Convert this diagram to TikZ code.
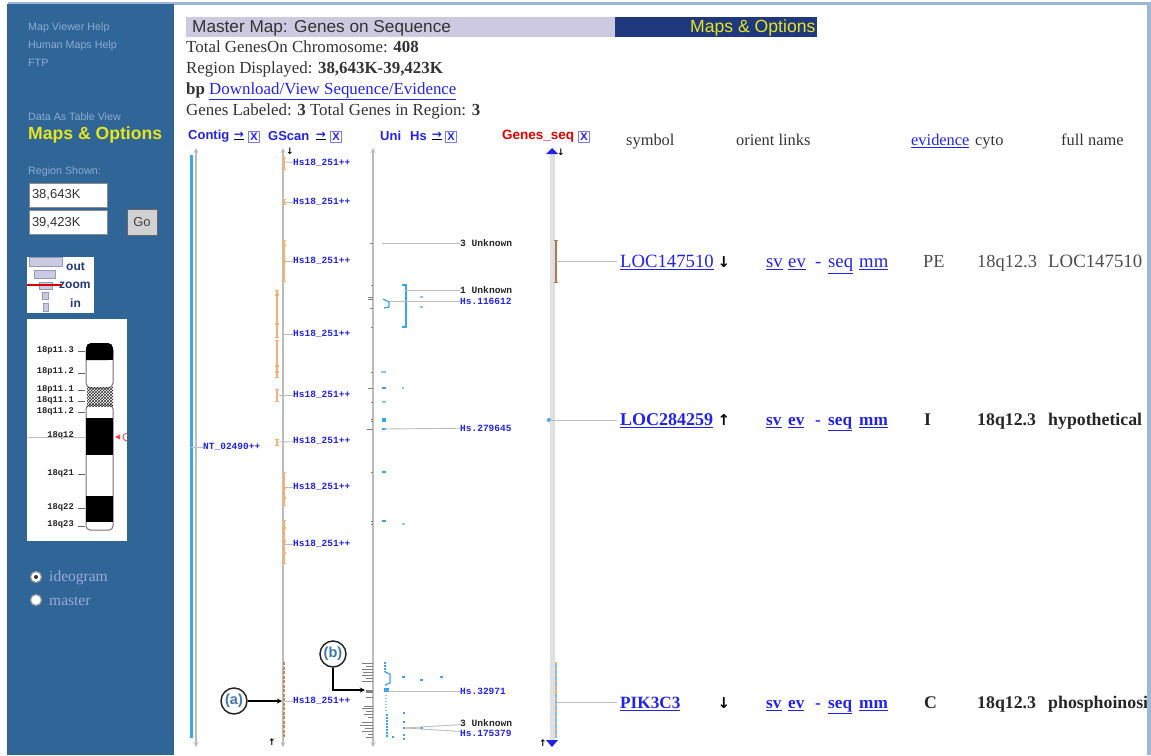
\documentclass[tikz,border=0pt]{standalone}
\usepackage{fontspec}
\setmainfont{Liberation Serif}
\setsansfont{Liberation Sans}
\setmonofont{Liberation Mono}
\newfontfamily\arrowfont{DejaVu Sans}
\usetikzlibrary{patterns,arrows.meta}
\definecolor{panelblue}{HTML}{2F6597}
\definecolor{panelframe}{HTML}{9DB7D6}
\definecolor{paneltext}{HTML}{8DACD4}
\definecolor{radiotext}{HTML}{A0A8DC}
\definecolor{barlilac}{HTML}{CCC9E0}
\definecolor{barnavy}{HTML}{20397E}
\definecolor{optyellow}{HTML}{E6E61E}
\definecolor{linkblue}{HTML}{2222EE}
\definecolor{geneorange}{HTML}{F8B070}
\definecolor{genebrown}{HTML}{B07A50}
\definecolor{unicyan}{HTML}{39A6F2}
\definecolor{callblue}{HTML}{3E78AA}
\definecolor{softgrey}{HTML}{BDBDBD}
\tikzstyle{side} = [anchor=west, inner sep=0pt, text height=0.72em, text depth=0.2em, yshift=-2pt, font=\sffamily\fontsize{10.7}{10.7}\selectfont, text=paneltext]
\tikzstyle{sideopt} = [anchor=west, inner sep=0pt, font=\sffamily\bfseries\fontsize{17.6}{17.6}\selectfont, text=optyellow]
\tikzstyle{inputbox} = [rectangle, draw=black!45, fill=white, minimum width=78pt, minimum height=24pt, inner sep=3pt, align=left, text width=72pt, font=\sffamily\fontsize{13}{13}\selectfont, text=black!80]
\tikzstyle{band} = [anchor=east, inner sep=0pt, font=\ttfamily\bfseries\fontsize{8.8}{8.8}\selectfont, text=black!85]
\tikzstyle{page} = [anchor=west, inner sep=0pt, text height=0.72em, text depth=0.2em, yshift=-3pt, font=\fontsize{16.9}{16.9}\selectfont, text=black!80]
\tikzstyle{colhead} = [page, font=\fontsize{16.4}{16.4}\selectfont]
\tikzstyle{trackhead} = [anchor=west, inner sep=0pt, font=\sffamily\bfseries\fontsize{13}{13}\selectfont, text=linkblue]
\tikzstyle{xicon} = [rectangle, draw=linkblue!60, inner sep=0pt, minimum size=11pt, font=\sffamily\bfseries\fontsize{11}{11}\selectfont, text=linkblue, append after command={[black, line width=1pt] (\tikzlastnode.south west) -- (\tikzlastnode.south east) -- (\tikzlastnode.north east)}]
\tikzstyle{goicon} = [inner sep=0pt, minimum width=12pt, minimum height=10pt, font=\arrowfont\bfseries\fontsize{12}{12}\selectfont, text=linkblue]
\tikzstyle{hsmap} = [anchor=west, inner sep=0pt, font=\ttfamily\bfseries\fontsize{9.5}{9.5}\selectfont, text=linkblue]
\tikzstyle{unknown} = [anchor=west, inner sep=0pt, font=\ttfamily\bfseries\fontsize{9.6}{9.6}\selectfont, text=black!85]
\tikzstyle{genelink} = [anchor=west, inner sep=0pt, text height=0.72em, text depth=0.2em, yshift=-4pt, font=\fontsize{18.7}{18.7}\selectfont, text=linkblue]
\tikzstyle{linkbold} = [genelink, font=\bfseries\fontsize{17.2}{17.2}\selectfont]
\tikzstyle{genetext} = [anchor=west, inner sep=0pt, text height=0.72em, text depth=0.2em, yshift=-4pt, font=\fontsize{18.4}{18.4}\selectfont, text=black!70]
\tikzstyle{genebold} = [anchor=west, inner sep=0pt, text height=0.72em, text depth=0.2em, yshift=-4pt, font=\bfseries\fontsize{17.8}{17.8}\selectfont, text=black!85]
\tikzstyle{orient} = [inner sep=0pt, font=\arrowfont\bfseries\fontsize{15}{15}\selectfont, text=black]
\tikzstyle{endmark} = [inner sep=0pt, font=\arrowfont\bfseries\fontsize{9}{9}\selectfont, text=black]
\tikzstyle{axis} = [draw=softgrey, line width=1.2pt, {Stealth[length=5pt,width=5pt]}-{Stealth[length=5pt,width=5pt]}]
\tikzstyle{leader} = [draw=softgrey, line width=0.9pt]
\tikzstyle{gstem} = [draw=geneorange, line width=1.6pt, {Bar[width=4pt,line width=1.4pt]}-{Bar[width=4pt,line width=1.4pt]}]
\tikzstyle{gtick} = [draw=geneorange, line width=1.2pt]
\tikzstyle{utick} = [draw=black!50, line width=0.8pt]
\tikzstyle{ublue} = [draw=unicyan, line width=1pt]
\tikzstyle{uspot} = [draw=unicyan!60, line width=1.6pt]
\tikzstyle{callout} = [circle, draw=black!85, line width=1.5pt, fill=white, minimum size=26pt, inner sep=0pt, font=\sffamily\bfseries\fontsize{14.5}{14.5}\selectfont, text=callblue]
\tikzstyle{arrow} = [line width=1.3pt,->,>=stealth]
\newcommand{\lnk}[1]{\underline{#1}}
\newcommand{\golnk}[1]{\textcolor{black}{\underline{\textcolor{linkblue}{#1}}}}

\begin{document}
\begin{tikzpicture}[x=1pt,y=-1pt]
\useasboundingbox (0,0) rectangle (1151,755);

\fill [panelframe] (8,2) rectangle (1151,5);
\fill [panelblue] (7,4) rectangle (174,755);

\node (mapHelp) [side] at (28,26) {Map Viewer Help};
\node (humanHelp) [side] at (28,44) {Human Maps Help};
\node (ftp) [side] at (28,62) {FTP};
\node (tableView) [side] at (28,116) {Data As Table View};
\node (sideOptions) [sideopt] at (28,135) {Maps \& Options};
\node (regionShown) [side] at (28,170) {Region Shown:};
\node (startBox) [inputbox] at (68,195) {38,643K};
\node (stopBox) [inputbox] at (68,222.5) {39,423K};
\node (goButton) [rectangle, draw=black!60, fill=black!18, minimum width=30pt, minimum height=26pt, inner sep=0pt, font=\sffamily\fontsize{13}{13}\selectfont, text=black!75] at (142,222) {Go};

\fill [white] (27,257) rectangle (94,313);
\draw [draw=barnavy!50, fill=barlilac] (29,257) rectangle (62,266);
\draw [draw=barnavy!50, fill=barlilac] (34,270) rectangle (55,278);
\draw [draw=barnavy!50, fill=barlilac] (39,282) rectangle (52,289);
\draw [draw=barnavy!50, fill=barlilac] (42,292) rectangle (48,299);
\draw [draw=barnavy!50, fill=barlilac] (43,303) rectangle (48,311);
\node (zoomOut) [anchor=west, inner sep=0pt, font=\sffamily\bfseries\fontsize{12}{12}\selectfont, text=barnavy] at (66,267) {out};
\node (zoomMid) [anchor=west, inner sep=0pt, font=\sffamily\bfseries\fontsize{12}{12}\selectfont, text=barnavy] at (59,285) {zoom};
\node (zoomIn) [anchor=west, inner sep=0pt, font=\sffamily\bfseries\fontsize{12}{12}\selectfont, text=barnavy] at (70,303) {in};
\draw [red!85!black, line width=1.6pt] (27,285) -- (62,285);

\fill [white] (27,319) rectangle (127,541);
\draw [draw=black!55, fill=white, line width=1pt, rounded corners=5pt] (86,350) -- (86,388) -- (113,388) -- (113,350);
\draw [draw=black!55, fill=white, line width=1pt, rounded corners=4pt] (86,405) -- (86,530) -- (113,530) -- (113,405) -- cycle;
\fill [black, rounded corners=5pt] (86,360) -- (86,343) -- (113,343) -- (113,360) [sharp corners] -- cycle;
\fill [black] (86,355) rectangle (113,360);
\path [pattern=crosshatch, pattern color=black!80] (87,387) rectangle (113,397);
\path [pattern=crosshatch, pattern color=black!80] (87,398) rectangle (113,406);
\fill [black] (86,418) rectangle (113,455);
\fill [black] (86,496) rectangle (113,522);
\node (p113) [band] at (74,350) {18p11.3};
\node (p112) [band] at (74,371) {18p11.2};
\node (p111) [band] at (74,389) {18p11.1};
\node (q111) [band] at (74,400) {18q11.1};
\node (q112) [band] at (74,411) {18q11.2};
\node (q12) [band] at (74,435) {18q12};
\node (q21) [band] at (74,473) {18q21};
\node (q22) [band] at (74,507) {18q22};
\node (q23) [band] at (74,524) {18q23};
\draw [black!60] (78,351) -- (85,351) (78,373) -- (85,373) (78,390) -- (85,390) (78,401) -- (85,401) (78,412) -- (85,412) (78,474) -- (85,474) (78,508) -- (85,508) (78,526) -- (85,526);
\draw [softgrey] (28,437) -- (85,437);
\fill [red!75] (115,437) -- (120,434.5) -- (120,439.5) -- cycle;
\draw [red!70, line width=1pt] (127,433) arc (90:270:4pt);

\draw [draw=black!40, fill=white, line width=1.2pt] (36,577) circle (5.5);
\fill [black!80] (36,577) circle (2);
\draw [draw=black!40, fill=white, line width=1.2pt] (36,600) circle (5.5);
\node (ideogram) [anchor=west, inner sep=0pt, font=\fontsize{15.5}{15.5}\selectfont, text=radiotext] at (49,578) {ideogram};
\node (master) [anchor=west, inner sep=0pt, font=\fontsize{15.5}{15.5}\selectfont, text=radiotext] at (49,601) {master};

\fill [barlilac] (186,17) rectangle (615,37);
\fill [barnavy] (615,17) rectangle (817,37);
\node (mapTitle) [anchor=west, inner sep=0pt, font=\sffamily\fontsize{17.2}{17.2}\selectfont, text=black!80] at (192,28) {Master Map: Genes on Sequence};
\node (barOptions) [anchor=west, inner sep=0pt, font=\sffamily\fontsize{17.6}{17.6}\selectfont, text=optyellow] at (690,28) {Maps \& Options};
\node (totalGenes) [page] at (186,47) {Total GenesOn Chromosome: \textbf{408}};
\node (regionText) [page] at (186,68) {Region Displayed: \textbf{38,643K-39,423K}};
\node (downloadText) [page] at (186,89) {\textbf{bp} \textcolor{linkblue}{\lnk{Download/View Sequence/Evidence}}};
\node (labeledText) [page] at (186,110) {Genes Labeled: \textbf{3} Total Genes in Region: \textbf{3}};

\node (contigHead) [trackhead] at (188,136) {Contig};
\node (contigGo) [goicon] at (239,136) {\golnk{→}};
\node (contigX) [xicon] at (254,137) {X};
\node (gscanHead) [trackhead] at (268,136) {GScan};
\node (gscanGo) [goicon] at (321,136) {\golnk{→}};
\node (gscanX) [xicon] at (336,137) {X};
\node (uniHead) [trackhead] at (380,136) {Uni};
\node (hsHead) [trackhead] at (410,136) {Hs};
\node (hsGo) [goicon] at (437,136) {\golnk{→}};
\node (hsX) [xicon] at (451,137) {X};
\node (genesHead) [trackhead, text=red!90!black, font=\sffamily\bfseries\fontsize{13.5}{13.5}\selectfont] at (502,136) {Genes\_seq};
\node (genesX) [xicon] at (584,137) {X};
\node (symbolHead) [colhead] at (626,140) {symbol};
\node (orientHead) [colhead] at (736,140) {orient links};
\node (evidenceHead) [colhead, text=linkblue] at (911,140) {\lnk{evidence}};
\node (cytoHead) [colhead] at (975,140) {cyto};
\node (fullHead) [colhead] at (1061,140) {full name};

\draw [axis] (196,148) -- (196,747);
\draw [axis] (283,148) -- (283,747);
\draw [axis] (373,148) -- (373,747);
\draw [draw=black!12, line width=5pt] (552,150) -- (552,740);
\draw [draw=unicyan, line width=3pt] (191,155) -- (191,738);

\node (contigLabel) [hsmap] at (203,447) {NT\_02490++};
\coordinate (contigAxis) at (191,447);
\draw [leader] (contigAxis) -- (contigLabel);

\node (hsA) [hsmap] at (293,163) {Hs18\_251++};
\node (hsB) [hsmap] at (293,202) {Hs18\_251++};
\node (hsC) [hsmap] at (293,261) {Hs18\_251++};
\node (hsD) [hsmap] at (293,334) {Hs18\_251++};
\node (hsE) [hsmap] at (293,395) {Hs18\_251++};
\node (hsF) [hsmap] at (293,441) {Hs18\_251++};
\node (hsG) [hsmap] at (293,487) {Hs18\_251++};
\node (hsH) [hsmap] at (293,544) {Hs18\_251++};
\node (hsI) [hsmap] at (293,701) {Hs18\_251++};
\coordinate (gscanA) at (285,162);
\coordinate (gscanB) at (285,202);
\coordinate (gscanC) at (285,261);
\coordinate (gscanD) at (283,334);
\coordinate (gscanE) at (279,395);
\coordinate (gscanF) at (279,442);
\coordinate (gscanG) at (285,487);
\coordinate (gscanH) at (285,544);
\coordinate (gscanI) at (285,701);
\draw [leader] (gscanA) -- (hsA);
\draw [leader] (gscanB) -- (hsB);
\draw [leader] (gscanC) -- (hsC);
\draw [leader] (gscanD) -- (hsD);
\draw [leader] (gscanE) -- (hsE);
\draw [leader] (gscanF) -- (hsF);
\draw [leader] (gscanG) -- (hsG);
\draw [leader] (gscanH) -- (hsH);
\draw [leader] (gscanI) -- (hsI);
\draw [gstem] (284,157) -- (284,170);
\draw [gstem] (284,199) -- (284,205);
\draw [gstem] (284,240) -- (284,282);
\draw [gstem] (277,290) -- (277,338);
\draw [gstem] (277,340) -- (277,378);
\draw [gstem] (277,389) -- (277,402);
\draw [gstem] (277,439) -- (277,446);
\draw [gstem] (284,472) -- (284,506);
\draw [gstem] (284,520) -- (284,564);
\draw [gtick] (282,245) -- (286,245) (282,261) -- (286,261) (275,295) -- (279,295) (275,324) -- (279,324) (275,366) -- (279,366) (275,372) -- (279,372) (282,488) -- (286,488) (282,498) -- (286,498) (282,528) -- (286,528) (282,541) -- (286,541) (282,553) -- (286,553);
\draw [draw=genebrown!70!geneorange, line width=2pt, dash pattern=on 3pt off 1.5pt] (284,662) -- (284,738);
\draw [geneorange, dashed] (274,157) -- (280,157) (273,739) -- (280,737);

\draw [utick] (370,243) -- (373,243) (371,285) -- (373,285) (368,297) -- (373,297) (368,299) -- (373,299) (370,308) -- (373,308) (371,327) -- (373,327);
\draw [utick] (371,372) -- (373,372) (368,388) -- (373,388) (371,402) -- (373,402) (371,419) -- (373,419) (371,421) -- (373,421) (367,429) -- (373,429) (371,472) -- (373,472) (371,521) -- (373,521) (371,524) -- (373,524);
\draw [utick] (362,663) -- (373,663) (366,666) -- (373,666) (362,669) -- (373,669) (363,672) -- (373,672) (362,675) -- (373,675) (366,678) -- (373,678) (362,681) -- (373,681);
\draw [utick, line width=3pt] (366,691) -- (373,691);
\draw [utick] (366,697) -- (373,697) (364,706) -- (373,706) (362,708) -- (373,708) (366,711) -- (373,711) (364,714) -- (373,714) (368,717) -- (373,717) (362,722) -- (373,722) (360,725) -- (373,725) (365,728) -- (373,728) (362,731) -- (373,731) (368,734) -- (373,734) (366,737) -- (373,737);

\draw [ublue] (383,243) -- (385,243);
\draw [ublue, line width=1.3pt] (402,285) -- (406,285) -- (406,327) -- (402,327);
\draw [ublue, line width=1.3pt] (383,299) -- (389,302) -- (389,307) -- (384,308);
\draw [uspot] (381,372) -- (386,372) (402,388) -- (404,388) (382,402) -- (386,402) (420,297) -- (423,297) (420,307) -- (423,307);
\draw [ublue, line width=1.8pt] (382,388) -- (386,388) (382,429) -- (386,429) (382,472) -- (386,472) (382,521) -- (386,521);
\draw [ublue, line width=3.4pt] (382,420) -- (386,420) (384,690) -- (389,690);
\draw [uspot] (402,524) -- (405,524);
\draw [ublue, dash pattern=on 1.5pt off 1.5pt, line width=2.4pt] (385,662) -- (385,672);
\draw [ublue, line width=1.3pt] (385,672) -- (390,674) -- (390,683) -- (385,685);
\draw [uspot, dash pattern=on 1pt off 2pt, line width=2.4pt] (386,695) -- (386,712);
\draw [ublue, dash pattern=on 2pt off 1pt, line width=2.4pt] (387,714) -- (387,738);
\draw [ublue, line width=1.6pt] (402,677) -- (405,677) (420,680) -- (423,680) (440,677) -- (443,677) (403,713) -- (405,713) (403,722) -- (405,722) (403,728) -- (405,728) (403,735) -- (405,735) (403,739) -- (405,739) (420,728) -- (423,728) (392,737) -- (394,737);

\node (unknownA) [unknown] at (460,243) {3 Unknown};
\node (unknownB) [unknown] at (460,290) {1 Unknown};
\node (hs116612) [hsmap] at (460,301) {Hs.116612};
\node (hs279645) [hsmap] at (460,428) {Hs.279645};
\node (hs32971) [hsmap] at (460,691) {Hs.32971};
\node (unknownC) [unknown] at (460,723) {3 Unknown};
\node (hs175379) [hsmap] at (460,733) {Hs.175379};
\coordinate (uniA) at (382,243);
\coordinate (uniB) at (405,290);
\coordinate (uniC) at (389,301);
\coordinate (uniD) at (384,429);
\coordinate (uniE) at (388,691);
\coordinate (uniF) at (405,728);
\draw [leader] (uniA) -- (unknownA);
\draw [leader] (uniB) -- (unknownB);
\draw [leader] (uniC) -- (hs116612);
\draw [leader] (uniD) -- (hs279645);
\draw [leader] (uniE) -- (hs32971);
\draw [leader] (uniF) -- (unknownC);
\draw [leader] (uniF) -- (hs175379);

\fill [linkblue] (546,154) -- (552,148) -- (558,154) -- cycle;
\fill [linkblue] (546,740) -- (552,747) -- (558,740) -- cycle;
\node (topMark) [endmark] at (561,152) {↓};
\node (botMark) [endmark] at (543,743) {↑};
\node (scanTop) [endmark] at (290,151) {↓};
\node (scanBot) [endmark] at (272,742) {↑};

\draw [draw=genebrown, line width=1.6pt, {Bar[width=4pt,line width=1.4pt]}-{Bar[width=4pt,line width=1.4pt]}] (556,240) -- (556,283);
\fill [unicyan] (549,420) circle (2);
\draw [draw=unicyan!70, line width=1.5pt] (556,664) -- (556,738);
\draw [draw=geneorange, line width=2pt, dash pattern=on 2pt off 4pt] (556,662) -- (556,738);
\draw [draw=geneorange, line width=2.4pt] (556,689) -- (556,694);

\node (geneA) [genelink] at (620,261) {\lnk{LOC147510}};
\node (orientA) [orient] at (724,262) {↓};
\node (svA) [genelink] at (766,261) {\lnk{sv}};
\node (evA) [genelink] at (788,261) {\lnk{ev}};
\node (dashA) [genelink] at (815,261) {-};
\node (seqA) [genelink] at (828,261) {\lnk{seq}};
\node (mmA) [genelink] at (859,261) {\lnk{mm}};
\node (evidA) [genetext] at (923,261) {PE};
\node (cytoA) [genetext] at (977,261) {18q12.3};
\node (nameA) [genetext, font=\fontsize{18.8}{18.8}\selectfont] at (1048,261) {LOC147510};

\node (geneB) [genelink, font=\bfseries\fontsize{18}{18}\selectfont] at (620,419) {\lnk{LOC284259}};
\node (orientB) [orient] at (724,420) {↑};
\node (svB) [linkbold] at (766,419) {\lnk{sv}};
\node (evB) [linkbold] at (788,419) {\lnk{ev}};
\node (dashB) [linkbold] at (815,419) {-};
\node (seqB) [linkbold] at (828,419) {\lnk{seq}};
\node (mmB) [linkbold] at (859,419) {\lnk{mm}};
\node (evidB) [genebold] at (924,419) {I};
\node (cytoB) [genebold] at (977,419) {18q12.3};
\node (nameB) [genebold] at (1048,419) {hypothetical};

\node (geneC) [linkbold] at (620,702) {\lnk{PIK3C3}};
\node (orientC) [orient] at (724,703) {↓};
\node (svC) [linkbold] at (766,702) {\lnk{sv}};
\node (evC) [linkbold] at (788,702) {\lnk{ev}};
\node (dashC) [linkbold] at (815,702) {-};
\node (seqC) [linkbold] at (828,702) {\lnk{seq}};
\node (mmC) [linkbold] at (859,702) {\lnk{mm}};
\node (evidC) [genebold] at (924,702) {C};
\node (cytoC) [genebold] at (977,702) {18q12.3};
\node (nameC) [genebold] at (1048,702) {phosphoinosi};

\coordinate (trackA) at (556,261);
\coordinate (trackB) at (549,420);
\coordinate (trackC) at (556,702);
\coordinate (lineEndA) at (617,261);
\coordinate (lineEndB) at (617,420);
\coordinate (lineEndC) at (617,702);
\draw [leader] (trackA) -- (lineEndA);
\draw [leader] (trackB) -- (lineEndB);
\draw [leader] (trackC) -- (lineEndC);

\fill [panelframe] (1147,2) rectangle (1151,755);

\node (callA) [callout] at (234,701) {(a)};
\node (callB) [callout] at (333,654) {(b)};
\coordinate (targetA) at (282,701);
\coordinate (targetB) at (365,690);
\draw [arrow] (callA) -- (targetA);
\draw [arrow] (callB) |- (targetB);

\end{tikzpicture}
\end{document}
